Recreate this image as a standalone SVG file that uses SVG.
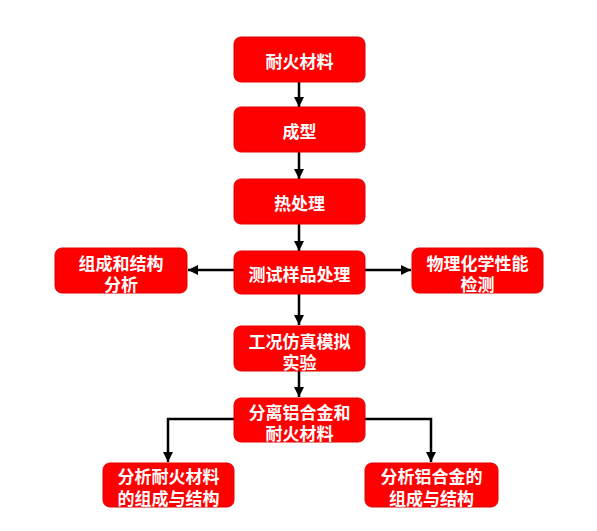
<svg xmlns="http://www.w3.org/2000/svg" width="597" height="531" viewBox="0 0 597 531">
<style>
.box{fill:#ff0000;stroke:#e00000;stroke-width:1}
.t{fill:#fff;font-family:"Noto Sans CJK SC","Noto Sans",sans-serif;font-weight:bold;font-size:17px;text-anchor:middle;dominant-baseline:central}
.c{stroke:#000;stroke-width:2.5;fill:none}
</style>
<defs>
<marker id="ah" viewBox="0 0 10 10" refX="10" refY="5" markerWidth="4" markerHeight="4" orient="auto" markerUnits="strokeWidth">
<path d="M0,0 L10,5 L0,10 z" fill="#000"/>
</marker>
</defs>
<rect width="597" height="531" fill="#fff"/>
<g id="connectors">
<path class="c" d="M299,82 V107" marker-end="url(#ah)"/>
<path class="c" d="M299,152 V179" marker-end="url(#ah)"/>
<path class="c" d="M299,224 V251" marker-end="url(#ah)"/>
<path class="c" d="M234,270 H188" marker-end="url(#ah)"/>
<path class="c" d="M365,270 H411" marker-end="url(#ah)"/>
<path class="c" d="M299,294 V325" marker-end="url(#ah)"/>
<path class="c" d="M299,371 V397" marker-end="url(#ah)"/>
<path class="c" d="M234,419 H168 V462" marker-end="url(#ah)"/>
<path class="c" d="M365,419 H431 V462" marker-end="url(#ah)"/>
</g>
<g id="n1"><rect class="box" x="234" y="37" width="131" height="45" rx="7"/><text class="t" x="299.5" y="60.5">耐火材料</text></g>
<g id="n2"><rect class="box" x="234" y="107" width="131" height="45" rx="7"/><text class="t" x="299.5" y="130.5">成型</text></g>
<g id="n3"><rect class="box" x="234" y="179" width="131" height="45" rx="7"/><text class="t" x="299.5" y="202.5">热处理</text></g>
<g id="n4"><rect class="box" x="234" y="251" width="131" height="43" rx="7"/><text class="t" x="299.5" y="273.5">测试样品处理</text></g>
<g id="n5"><rect class="box" x="55" y="248" width="132" height="45" rx="7"/><text class="t"><tspan x="121" y="262">组成和结构</tspan><tspan x="121" y="283">分析</tspan></text></g>
<g id="n6"><rect class="box" x="412" y="248" width="131" height="45" rx="7"/><text class="t"><tspan x="477.5" y="262">物理化学性能</tspan><tspan x="477.5" y="283">检测</tspan></text></g>
<g id="n7"><rect class="box" x="234" y="326" width="131" height="45" rx="7"/><text class="t"><tspan x="299.5" y="340">工况仿真模拟</tspan><tspan x="299.5" y="361">实验</tspan></text></g>
<g id="n8"><rect class="box" x="234" y="398" width="131" height="44" rx="7"/><text class="t"><tspan x="299.5" y="411">分离铝合金和</tspan><tspan x="299.5" y="432">耐火材料</tspan></text></g>
<g id="n9"><rect class="box" x="103" y="463" width="131" height="44" rx="7"/><text class="t"><tspan x="168.5" y="475">分析耐火材料</tspan><tspan x="168.5" y="497">的组成与结构</tspan></text></g>
<g id="n10"><rect class="box" x="365" y="463" width="133" height="44" rx="7"/><text class="t"><tspan x="431.5" y="475">分析铝合金的</tspan><tspan x="431.5" y="497">组成与结构</tspan></text></g>
</svg>
